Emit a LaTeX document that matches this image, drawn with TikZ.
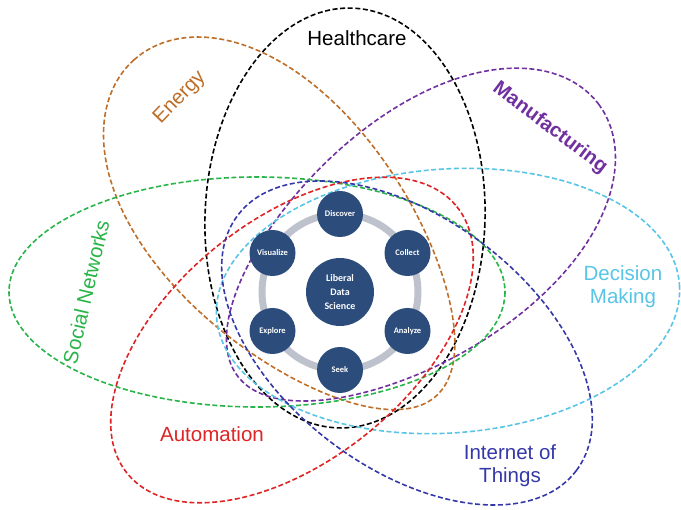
\documentclass[tikz,border=0pt]{standalone}
\usepackage{fontspec}
\setmainfont{Liberation Sans}
\newfontfamily\stagefont{Carlito}

\definecolor{energyc}{RGB}{190,110,40}
\definecolor{manufc}{RGB}{112,48,160}
\definecolor{socialc}{RGB}{40,180,72}
\definecolor{decisionc}{RGB}{88,196,230}
\definecolor{autoc}{RGB}{222,36,36}
\definecolor{iotc}{RGB}{52,56,168}
\definecolor{ldsblue}{RGB}{44,76,124}
\definecolor{ringgray}{RGB}{190,194,204}

\begin{document}
\begin{tikzpicture}[x=1pt,y=-1pt,
	sector/.style={line width=1.6pt,dash pattern=on 5pt off 2.6pt},
	sectorname/.style={font=\fontsize{20.5}{23}\selectfont,align=center,inner sep=0pt},
	stage/.style={circle,fill=ldsblue,text=white,minimum size=46pt,inner sep=0pt,
		font=\stagefont\bfseries\fontsize{8.5}{10}\selectfont},
	ring/.style={draw=ringgray,line width=7pt}]
	\useasboundingbox (0,0) rectangle (681,510);

	% application fields (y grows downwards here)
	\draw[sector,black,rotate around={-2:(345,218)}] (345,218) ellipse (140 and 210);
	% egg shapes, fat end along the local x axis
	\draw[sector,energyc,shift={(285,228)},rotate=132] plot[domain=0:360,samples=120,smooth,variable=\t]
		({226*cos(\t)},{120*sin(\t)*(1+0.15*cos(\t))}) -- cycle;
	\draw[sector,manufc,shift={(418,240)},rotate=37] plot[domain=0:360,samples=120,smooth,variable=\t]
		({226*cos(\t)},{120*sin(\t)*(1+0.12*cos(\t))}) -- cycle;
	\draw[sector,socialc] (257,292) ellipse (248 and 115);
	\draw[sector,decisionc,rotate around={4:(448,301)}] (448,301) ellipse (232 and 132);
	\draw[sector,autoc,rotate around={39:(292,340)}] (292,340) ellipse (212 and 120);
	\draw[sector,iotc,rotate around={-37:(407,343)}] (407,343) ellipse (212 and 125);

	\node[sectorname] (health) at (357,38) {Healthcare};
	\node[sectorname,text=energyc,rotate=46] (energy) at (180,98) {Energy};
	\node[sectorname,text=manufc,rotate=-37,font=\fontsize{20}{23}\selectfont\bfseries] (manuf) at (550,128) {Manufacturing};
	\node[sectorname,text=socialc,rotate=77] (social) at (86,292) {Social Networks};
	\node[sectorname,text=decisionc] (decision) at (623,287) {Decision\\Making};
	\node[sectorname,text=autoc] (auto) at (212,434) {Automation};
	\node[sectorname,text=iotc] (iot) at (510,466) {Internet of\\Things};

	% data science cycle
	\node[stage,minimum size=68pt,font=\stagefont\bfseries\fontsize{10}{14}\selectfont,align=center] (core) at (340,292) {Liberal\\Data\\Science};
	\draw[ring] (core) circle (78);
	\node[stage] (discover) at (340,214) {Discover};
	\node[stage] (collect) at (407.5,253) {Collect};
	\node[stage] (analyze) at (407.5,331) {Analyze};
	\node[stage] (seek) at (340,370) {Seek};
	\node[stage] (explore) at (272.5,331) {Explore};
	\node[stage] (visualize) at (272.5,253) {Visualize};
\end{tikzpicture}
\end{document}
